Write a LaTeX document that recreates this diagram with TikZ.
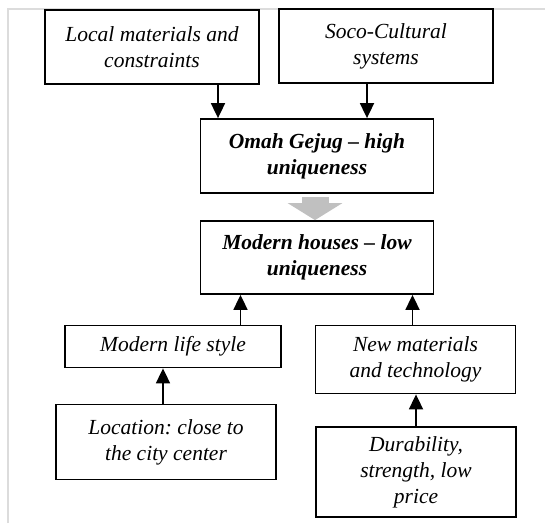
\documentclass[tikz,border=0pt]{standalone}
\usepackage{fontspec}
\setmainfont{Liberation Serif}
\usetikzlibrary{arrows.meta}
\definecolor{framegray}{RGB}{220,220,220}
\definecolor{flowgray}{RGB}{192,192,192}

\begin{document}
\frenchspacing
\begin{tikzpicture}[x=1pt, y=-1pt,
  box/.style={draw, line width=1.8pt, inner sep=0pt, align=center, font=\fontsize{21.5}{26}\selectfont\itshape},
  keybox/.style={box, font=\fontsize{21.5}{26}\selectfont\bfseries\itshape},
  arr/.style={line width=1.8pt, -{Triangle[width=14pt,length=15pt]}}]
  \useasboundingbox (0,0) rectangle (545,523);
  \draw[framegray, line width=1.5pt] (8,523) -- (8,9) -- (545,9);

  % sources of the old house
  \node[box, minimum width=214pt, minimum height=74pt] (local) at (152,47) {Local materials and\\constraints};
  \node[box, minimum width=214pt, minimum height=74pt] (soco) at (386,46) {Soco-Cultural\\systems};
  \node[keybox, minimum width=233pt, minimum height=74pt] (omah) at (317,156) {Omah Gejug – high\\uniqueness};
  \node[keybox, minimum width=233pt, minimum height=73pt] (modern) at (317,257.5) {Modern houses – low\\uniqueness};

  % drivers of the change
  \node[box, minimum width=216pt, minimum height=42pt] (life) at (173,346.5) {Modern life style};
  \node[box, minimum width=200pt, minimum height=68pt] (newmat) at (415.5,359.5) {New materials\\and technology};
  \node[box, minimum width=220pt, minimum height=75pt] (location) at (166,442) {Location: close to\\the city center};
  \node[box, minimum width=200pt, minimum height=90pt] (durab) at (416,472) {Durability,\\strength, low\\price};

  \draw[arr] ([xshift=66pt]local.south) -- ([xshift=66pt]local.south |- omah.north);
  \draw[arr] ([xshift=-19pt]soco.south) -- ([xshift=-19pt]soco.south |- omah.north);
  \draw[flowgray, line width=27pt, -{Triangle[width=54pt,length=17pt]}] ([xshift=-2pt,yshift=-3pt]omah.south) -- ([xshift=-2pt]modern.north);
  \draw[arr] ([xshift=67.5pt]life.north) -- ([xshift=67.5pt]life.north |- modern.south);
  \draw[arr] ([xshift=-3pt]newmat.north) -- ([xshift=-3pt]newmat.north |- modern.south);
  \draw[arr] ([xshift=-3pt]location.north) -- ([xshift=-3pt]location.north |- life.south);
  \draw[arr] (durab.north) -- (durab.north |- newmat.south);
\end{tikzpicture}
\end{document}
